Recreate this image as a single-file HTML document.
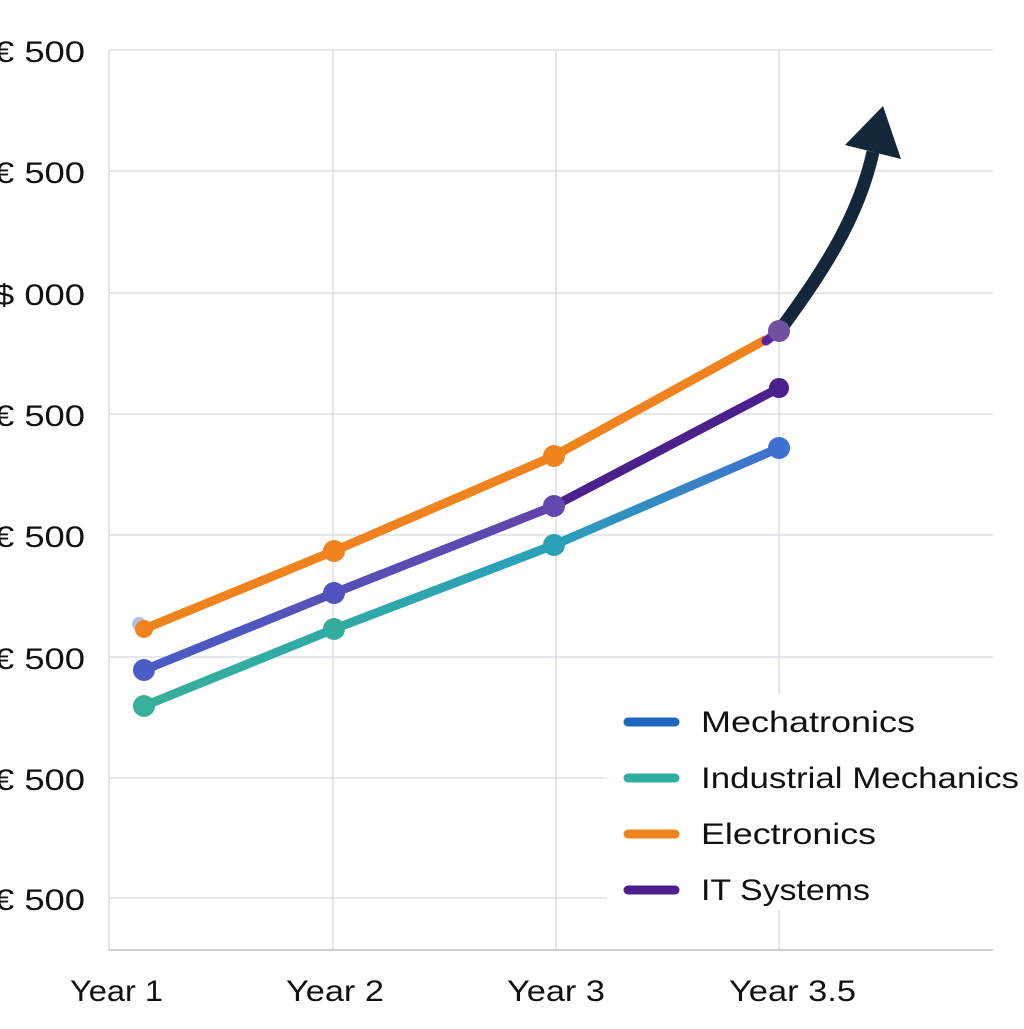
<!DOCTYPE html>
<html><head><style>
html,body{margin:0;padding:0;background:#fff;}
svg text{font-family:"Liberation Sans",sans-serif;fill:#111;}
</style></head><body>
<svg width="1024" height="1024" viewBox="0 0 1024 1024" xmlns="http://www.w3.org/2000/svg">
<defs>
<linearGradient id="gb" x1="144" y1="0" x2="554" y2="0" gradientUnits="userSpaceOnUse">
<stop offset="0" stop-color="#4a5cc6"/><stop offset="1" stop-color="#6244aa"/></linearGradient>
<linearGradient id="gt" x1="144" y1="0" x2="779" y2="0" gradientUnits="userSpaceOnUse">
<stop offset="0" stop-color="#36b09a"/><stop offset="0.65" stop-color="#2aa0b8"/><stop offset="1" stop-color="#3f6fd0"/></linearGradient>
</defs>
<g stroke="#d6d8e2" stroke-width="1.3">
<line x1="109" y1="50" x2="993" y2="50"/><line x1="109" y1="171" x2="993" y2="171"/>
<line x1="109" y1="293" x2="993" y2="293"/><line x1="109" y1="414" x2="993" y2="414"/>
<line x1="109" y1="535" x2="993" y2="535"/><line x1="109" y1="657" x2="993" y2="657"/>
<line x1="109" y1="778" x2="993" y2="778"/><line x1="109" y1="898" x2="993" y2="898"/>
<line x1="109" y1="50" x2="109" y2="950"/><line x1="333" y1="50" x2="333" y2="950"/>
<line x1="556" y1="50" x2="556" y2="950"/><line x1="779" y1="50" x2="779" y2="950"/>
</g>
<line x1="109" y1="950" x2="993" y2="950" stroke="#bfc2cc" stroke-width="1.5"/>
<g font-size="30">
<text x="-6" y="62" textLength="91" lengthAdjust="spacingAndGlyphs">€ 500</text>
<text x="-6" y="183" textLength="91" lengthAdjust="spacingAndGlyphs">€ 500</text>
<text x="-6" y="305" textLength="91" lengthAdjust="spacingAndGlyphs">$ 000</text>
<text x="-6" y="426" textLength="91" lengthAdjust="spacingAndGlyphs">€ 500</text>
<text x="-6" y="547" textLength="91" lengthAdjust="spacingAndGlyphs">€ 500</text>
<text x="-6" y="669" textLength="91" lengthAdjust="spacingAndGlyphs">€ 500</text>
<text x="-6" y="790" textLength="91" lengthAdjust="spacingAndGlyphs">€ 500</text>
<text x="-6" y="910" textLength="91" lengthAdjust="spacingAndGlyphs">€ 500</text>
<text x="70" y="1001" textLength="93" lengthAdjust="spacingAndGlyphs">Year 1</text>
<text x="286" y="1001" textLength="98" lengthAdjust="spacingAndGlyphs">Year 2</text>
<text x="507" y="1001" textLength="98" lengthAdjust="spacingAndGlyphs">Year 3</text>
<text x="729" y="1001" textLength="127" lengthAdjust="spacingAndGlyphs">Year 3.5</text>
</g>
<circle cx="139" cy="624" r="7" fill="#b0c4e4"/>
<g fill="none" stroke-width="9" stroke-linecap="round" stroke-linejoin="round">
<polyline points="144,706 334,629 554,545 779,448" stroke="url(#gt)"/>
<polyline points="554,506 779,388" stroke="#4b1f8c"/>
<polyline points="144,670 334,593 554,506" stroke="url(#gb)"/>
<polyline points="144,629 334,551 554,456 765,340" stroke="#f0831e"/>
<line x1="766" y1="341" x2="779" y2="331" stroke="#5a24a0"/>
</g>
<path d="M783,326 C820,275 858,220 873,152" fill="none" stroke="#13263a" stroke-width="13"/>
<polygon points="883,106 845,145 901,159" fill="#13263a"/>
<g>
<circle cx="144" cy="706" r="11" fill="#36b09a"/><circle cx="334" cy="629" r="11" fill="#34ae9c"/>
<circle cx="554" cy="545" r="11" fill="#2aa0b8"/><circle cx="779" cy="448" r="11" fill="#3f6fd0"/>
<circle cx="779" cy="388" r="10" fill="#4b1f8c"/>
<circle cx="144" cy="670" r="11" fill="#4a5cc6"/><circle cx="334" cy="593" r="11" fill="#5252be"/>
<circle cx="554" cy="506" r="11" fill="#6048ae"/><circle cx="779" cy="331" r="11" fill="#7050a0"/>
<circle cx="144" cy="629" r="9" fill="#f0831e"/><circle cx="334" cy="551" r="11" fill="#f0831e"/>
<circle cx="554" cy="456" r="11" fill="#f0831e"/>
</g>
<rect x="607" y="695" width="417" height="215" fill="#fff"/>
<g stroke-width="9" stroke-linecap="round">
<line x1="628" y1="722" x2="675" y2="722" stroke="#1f66c0"/>
<line x1="628" y1="778" x2="675" y2="778" stroke="#2fb09e"/>
<line x1="628" y1="834" x2="675" y2="834" stroke="#f0831e"/>
<line x1="628" y1="890" x2="675" y2="890" stroke="#4b1f8c"/>
</g>
<g font-size="30">
<text x="701" y="732" textLength="214" lengthAdjust="spacingAndGlyphs">Mechatronics</text>
<text x="701" y="788" textLength="318" lengthAdjust="spacingAndGlyphs">Industrial Mechanics</text>
<text x="701" y="844" textLength="175" lengthAdjust="spacingAndGlyphs">Electronics</text>
<text x="701" y="900" textLength="169" lengthAdjust="spacingAndGlyphs">IT Systems</text>
</g>
</svg>
</body></html>
